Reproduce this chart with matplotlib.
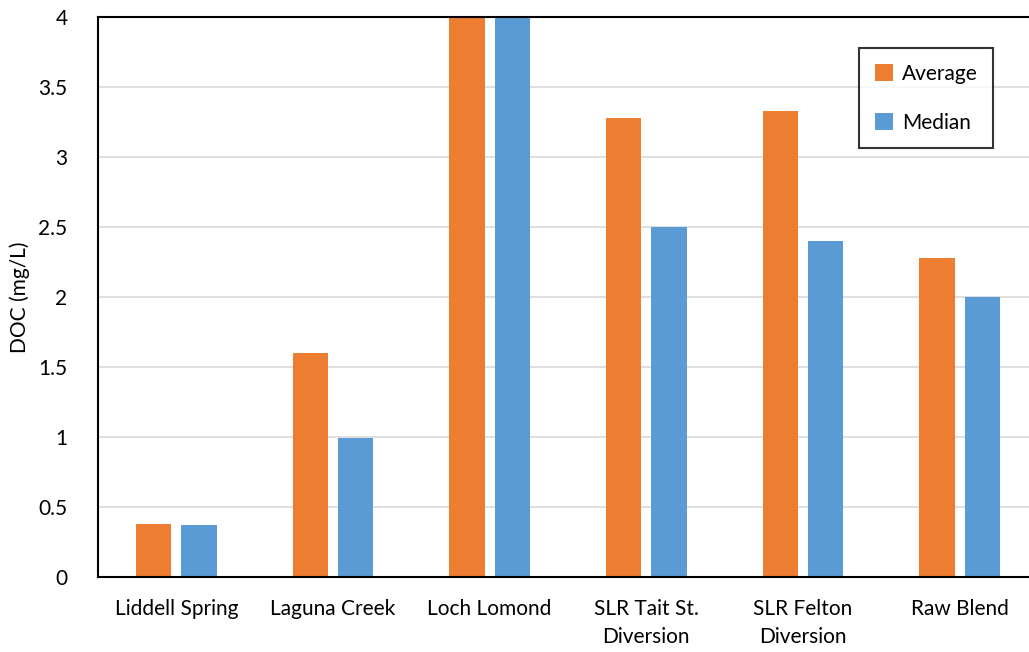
import matplotlib
matplotlib.use("Agg")
import matplotlib.pyplot as plt
import numpy as np

categories = ["Liddell Spring", "Laguna Creek", "Loch Lomond", "SLR Tait St.\nDiversion", "SLR Felton\nDiversion", "Raw Blend"]
average = [0.38, 1.60, 4.30, 3.28, 3.33, 2.28]
median = [0.37, 0.99, 4.20, 2.50, 2.40, 2.00]
yticks = [0, 0.5, 1, 1.5, 2, 2.5, 3, 3.5, 4]
ytick_labels = ["0", "0.5", "1", "1.5", "2", "2.5", "3", "3.5", "4"]

plt.rcParams['font.family'] = ['Lato', 'DejaVu Sans']
FS = 15

W, H = 1029, 652
fig = plt.figure(figsize=(W/100, H/100), dpi=100)
ax = fig.add_axes([98/W, 1-577/H, (1038-98)/W, (577-17)/H])

x = np.arange(len(categories))
bw = 0.225
off = 0.145
ax.bar(x - off, average, bw, color="#ED7D31", label="Average", zorder=3)
ax.bar(x + off, median, bw, color="#5B9BD5", label="Median", zorder=3)

ax.set_xlim(-0.5, len(categories) - 0.5)
ax.set_ylim(0, 4)
ax.set_yticks(yticks)
ax.set_yticklabels(ytick_labels, fontsize=FS)
ax.set_xticks(x)
ax.set_xticklabels(categories, fontsize=FS, linespacing=1.5, va="top")
ax.tick_params(axis="both", length=0)
ax.tick_params(axis="x", pad=16)
ax.tick_params(axis="y", pad=22)
ax.yaxis.grid(True, color="#D9D9D9", linewidth=1.2, zorder=0)
ax.set_axisbelow(True)
for s in ax.spines.values():
    s.set_color("black")
    s.set_linewidth(1.5)
    s.set_zorder(4)
ax.set_ylabel("DOC (mg/L)", fontsize=FS, labelpad=6)

leg = ax.legend(loc="upper left", bbox_to_anchor=((859-98)/940, 1-(48-17)/560),
                fontsize=FS, frameon=True, fancybox=False, edgecolor="black",
                handlelength=0.9, handleheight=0.9, handletextpad=0.4,
                labelspacing=1.4, borderpad=0.75, borderaxespad=0)
leg.get_frame().set_linewidth(1.5)

fig.savefig("out.png", dpi=100)
